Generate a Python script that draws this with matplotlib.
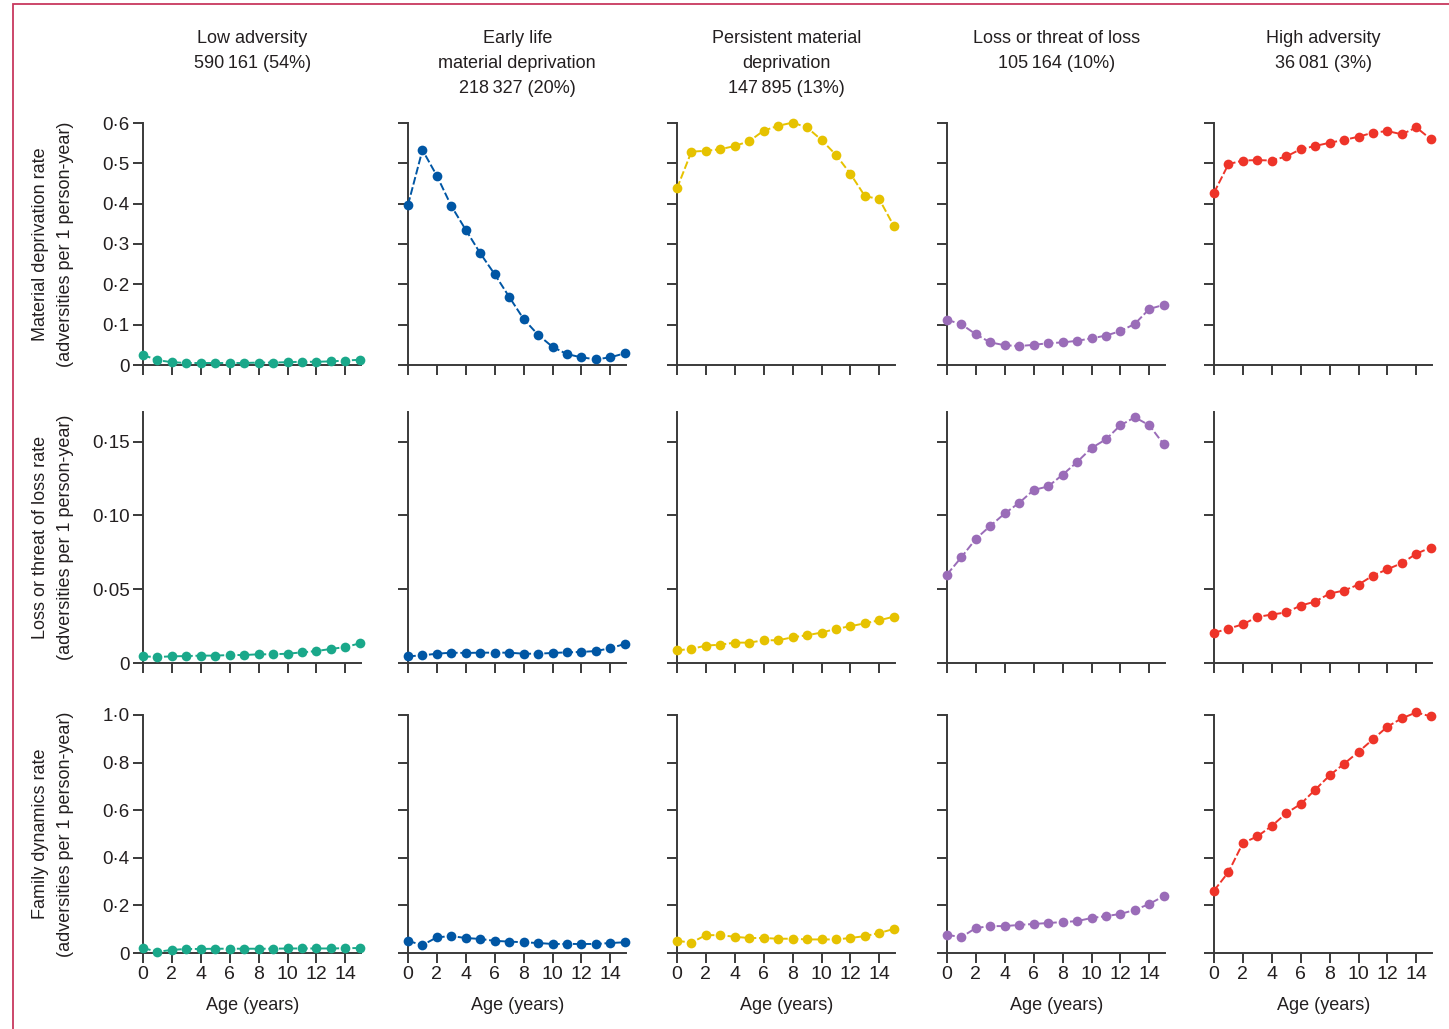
import matplotlib
matplotlib.use("Agg")
import matplotlib.pyplot as plt
from matplotlib.patches import Rectangle
import numpy as np

plt.rcParams["font.family"] = ["Liberation Sans", "DejaVu Sans"]

ages = np.arange(16)

groups = ["Low adversity", "Early life\nmaterial deprivation", "Persistent material\ndeprivation",
          "Loss or threat of loss", "High adversity"]
group_n = [590161, 218327, 147895, 105164, 36081]
group_pct = [54, 20, 13, 10, 3]
group_colors = ["#1aa88a", "#0056a4", "#e6c200", "#9a6cb8", "#ee3429"]

# adversities per 1 person-year, ages 0-15, one list per group
material_rates = [
    [0.025, 0.012, 0.007, 0.005, 0.005, 0.005, 0.005, 0.005, 0.006, 0.006, 0.007, 0.008, 0.008, 0.009, 0.011, 0.013],
    [0.397, 0.533, 0.469, 0.394, 0.335, 0.277, 0.225, 0.169, 0.114, 0.075, 0.045, 0.027, 0.019, 0.014, 0.019, 0.029],
    [0.438, 0.529, 0.531, 0.535, 0.543, 0.555, 0.581, 0.593, 0.601, 0.589, 0.558, 0.521, 0.474, 0.419, 0.411, 0.345],
    [0.112, 0.101, 0.076, 0.056, 0.049, 0.047, 0.050, 0.054, 0.056, 0.060, 0.066, 0.073, 0.084, 0.102, 0.139, 0.149],
    [0.427, 0.498, 0.507, 0.508, 0.507, 0.517, 0.535, 0.543, 0.551, 0.558, 0.566, 0.576, 0.580, 0.572, 0.589, 0.560],
]
loss_rates = [
    [0.0045, 0.0041, 0.0045, 0.0047, 0.0050, 0.0050, 0.0054, 0.0054, 0.0059, 0.0059, 0.0063, 0.0072, 0.0081, 0.0095, 0.0108, 0.0133],
    [0.0045, 0.0052, 0.0063, 0.0070, 0.0068, 0.0070, 0.0070, 0.0070, 0.0063, 0.0063, 0.0068, 0.0072, 0.0075, 0.0081, 0.0100, 0.0129],
    [0.0086, 0.0095, 0.0118, 0.0124, 0.0138, 0.0138, 0.0154, 0.0154, 0.0174, 0.0188, 0.0206, 0.0231, 0.0249, 0.0269, 0.0289, 0.0314],
    [0.0599, 0.0717, 0.0841, 0.0929, 0.1013, 0.1085, 0.1172, 0.1196, 0.1275, 0.1361, 0.1456, 0.1515, 0.1610, 0.1664, 0.1610, 0.1481],
    [0.0204, 0.0233, 0.0262, 0.0312, 0.0328, 0.0343, 0.0389, 0.0416, 0.0470, 0.0491, 0.0531, 0.0592, 0.0635, 0.0676, 0.0740, 0.0782],
]
family_rates = [
    [0.021, 0.005, 0.013, 0.017, 0.017, 0.018, 0.018, 0.018, 0.018, 0.018, 0.019, 0.019, 0.019, 0.019, 0.020, 0.021],
    [0.051, 0.033, 0.066, 0.071, 0.063, 0.059, 0.051, 0.048, 0.045, 0.042, 0.038, 0.038, 0.038, 0.038, 0.042, 0.045],
    [0.051, 0.044, 0.075, 0.075, 0.068, 0.063, 0.063, 0.060, 0.060, 0.057, 0.057, 0.057, 0.063, 0.071, 0.084, 0.101],
    [0.076, 0.067, 0.105, 0.113, 0.113, 0.118, 0.122, 0.126, 0.130, 0.134, 0.147, 0.155, 0.164, 0.181, 0.206, 0.239],
    [0.262, 0.340, 0.462, 0.490, 0.534, 0.587, 0.626, 0.686, 0.746, 0.795, 0.845, 0.898, 0.951, 0.986, 1.011, 0.994],
]

row_labels = ["Material deprivation rate", "Loss or threat of loss rate", "Family dynamics rate"]
row_data = [material_rates, loss_rates, family_rates]
row_ymax = [0.6, 0.17, 1.0]
row_yticks = [
    [0, 0.1, 0.2, 0.3, 0.4, 0.5, 0.6],
    [0, 0.05, 0.10, 0.15],
    [0, 0.2, 0.4, 0.6, 0.8, 1.0],
]
row_yticklabels = [
    ["0", "0·1", "0·2", "0·3", "0·4", "0·5", "0·6"],
    ["0", "0·05", "0·10", "0·15"],
    ["0", "0·2", "0·4", "0·6", "0·8", "1·0"],
]

W, H = 1449, 1029
TXT = "#231f20"
AX = "#3a3a3a"
fig = plt.figure(figsize=(W / 100, H / 100), dpi=100)

# layout in pixels
col_left = [143, 408, 677, 947, 1214]
row_span = [(123, 365), (412, 663), (715, 953)]
xmax = 15.12
ax_w = xmax * 14.45

for r, (top, bottom) in enumerate(row_span):
    for c, left in enumerate(col_left):
        ax = fig.add_axes([left / W, 1 - bottom / H, ax_w / W, (bottom - top) / H])
        ax.plot(ages, row_data[r][c], color=group_colors[c], lw=1.4, ls=(0, (4, 1.4)),
                marker="o", ms=7, mec="none", clip_on=False, zorder=3)
        ax.set_xlim(0, xmax)
        ax.set_ylim(0, row_ymax[r])
        for s in ("top", "right"):
            ax.spines[s].set_visible(False)
        for s in ("left", "bottom"):
            ax.spines[s].set_color(AX)
            ax.spines[s].set_linewidth(1.4)
        ax.set_xticks(range(0, 15, 2))
        ax.set_yticks(row_yticks[r])
        ax.tick_params(direction="out", length=7.2, width=1.4, color=AX,
                       labelcolor=TXT, labelsize=13.5, pad=2.5)
        ax.tick_params(axis="x", labelsize=14)
        if r == 2:
            ax.set_xticklabels([str(v) for v in range(0, 15, 2)])
        else:
            ax.set_xticklabels([])
        if c == 0:
            ax.set_yticklabels(row_yticklabels[r])
        else:
            ax.set_yticklabels([])

        mid = left + ax_w / 2
        if r == 0:
            size = f"{group_n[c]:,}".replace(",", "\u2009")
            fig.text(mid / W, 1 - 30 / H, f"{groups[c]}\n{size} ({group_pct[c]}%)",
                     ha="center", va="top", fontsize=13, color=TXT, linespacing=1.6)
        if r == 2:
            fig.text(mid / W, 1 - 1005 / H, "Age (years)", ha="center", va="center",
                     fontsize=13, color=TXT)

    fig.text(53 / W, 1 - (top + bottom) / 2 / H,
             f"{row_labels[r]}\n(adversities per 1 person-year)",
             rotation=90, ha="center", va="center", multialignment="center",
             fontsize=13, color=TXT, linespacing=1.6)

fig.patches.append(Rectangle((13 / W, -0.1), 1.2, 1.1 - 4 / H, transform=fig.transFigure,
                             fill=False, edgecolor="#c8385e", lw=1.3))

fig.savefig("out.png", dpi=100)
